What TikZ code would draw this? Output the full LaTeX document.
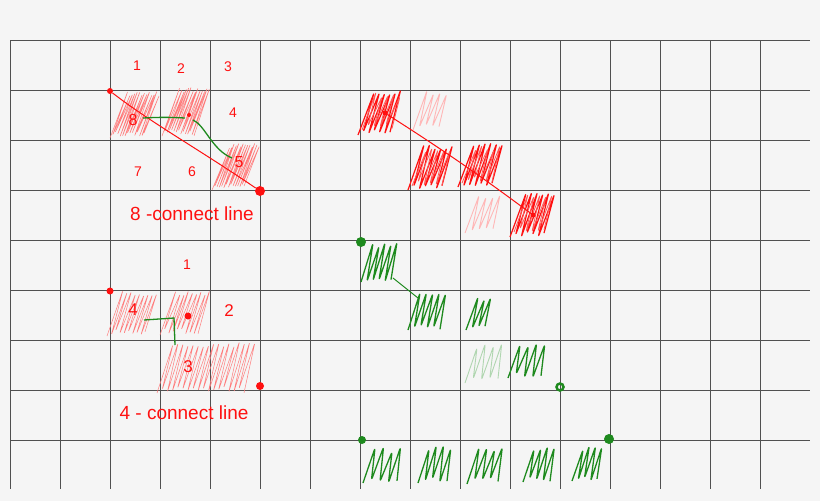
\documentclass[tikz,border=0pt]{standalone}
\usepackage{fontspec}
\setmainfont{Liberation Sans}
\definecolor{bg}{HTML}{F5F5F5}
\definecolor{gridc}{HTML}{505050}
\definecolor{pred}{HTML}{FF1010}
\definecolor{pgreen}{HTML}{1E8A1E}
\tikzset{
  gridline/.style={draw=gridc,line width=1pt},
  rdot/.style={circle,fill=pred,inner sep=0pt,minimum size=#1},
  rdot/.default=5pt,
  gdot/.style={circle,fill=pgreen,inner sep=0pt,minimum size=#1},
  gdot/.default=8pt,
  hatch/.style={draw=pred!55,line width=0.5pt,line join=round,rounded corners=1.5pt},
  rscrib/.style={draw=pred,line width=1.2pt,line join=round,rounded corners=2pt},
  rscrib2/.style={draw=pred!70,line width=0.8pt,line join=round,rounded corners=2pt},
  rlight/.style={draw=pred!30,line width=0.9pt,line join=round,rounded corners=2pt},
  gscrib/.style={draw=pgreen,line width=1.3pt,line join=round,rounded corners=2.5pt},
  glight/.style={draw=pgreen!35,line width=0.9pt,line join=round,rounded corners=2.5pt},
  redline/.style={draw=pred,line width=1pt},
  greenline/.style={draw=pgreen,line width=1.3pt},
  lab/.style={text=pred,font=\fontsize{14}{14}\selectfont,inner sep=0pt},
  biglab/.style={text=pred,font=\fontsize{19}{19}\selectfont,inner sep=0pt},
}
% x0, y0(bottom), width, height, count, slant, style
\newcommand\scrib[7]{%
  \pgfmathsetmacro\stp{(#3-#6)/#5}%
  \draw[#7] (#1,#2) \foreach \k in {1,...,#5}{ -- ({#1+(\k-1)*\stp+#6},{#2-#4+5*rnd}) -- ({#1+\k*\stp},{#2-5*rnd}) };%
}
\begin{document}
\begin{tikzpicture}[x=1pt,y=-1pt]
\pgfmathsetseed{7}
\fill[bg] (0,0) rectangle (820,501);
\useasboundingbox (0,0) rectangle (820,501);
% grid
\foreach \yy in {40,90,...,440} \draw[gridline] (10,\yy) -- (810,\yy);
\foreach \xx in {10,60,...,760} \draw[gridline] (\xx,40) -- (\xx,489);

% ---------- 8-connect (top left) ----------
\scrib{110}{138}{52}{48}{14}{18}{hatch}
\scrib{162}{136}{50}{50}{14}{18}{hatch}
\scrib{212}{190}{50}{48}{14}{18}{hatch}
\node[rdot=6pt] (a1) at (110,91) {};
\node[rdot=10pt] (a2) at (260,191) {};
\node[rdot=4pt] (ac) at (189,115) {};
\draw[redline] (a1) .. controls (150,122) and (200,150) .. (a2);
\coordinate (g1) at (143,118);
\coordinate (g2) at (185,118);
\coordinate (g3) at (193,120);
\coordinate (g4) at (232,158);
\draw[greenline] (g1) to[bend left=3] (g2);
\draw[greenline] (g3) .. controls (205,125) and (212,150) .. (g4);
\node[lab] (n1) at (137,66) {1};
\node[lab] (n2) at (181,69) {2};
\node[lab] (n3) at (228,67) {3};
\node[lab] (n4) at (233,113) {4};
\node[lab,font=\fontsize{16}{16}\selectfont] (n8) at (133,120) {8};
\node[lab,font=\fontsize{16}{16}\selectfont] (n5) at (239,162) {5};
\node[lab] (n7) at (138,172) {7};
\node[lab] (n6) at (192,172) {6};
\node[biglab] (t8) at (192,214) {8 -connect line};

% ---------- 4-connect (bottom left) ----------
\scrib{107}{336}{54}{46}{9}{16}{hatch}
\scrib{160}{335}{54}{46}{9}{16}{hatch}
\scrib{157}{393}{103}{52}{17}{16}{hatch}
\node[rdot=7pt] (b1) at (110,291) {};
\node[rdot=8pt] (b2) at (260,386) {};
\node[rdot=7pt] (bc) at (188,316) {};
\coordinate (h1) at (144,320);
\coordinate (h2) at (174,318);
\coordinate (h3) at (175,345);
\draw[greenline] (h1) -- (h2) -- (h3);
\node[lab] (m1) at (187,265) {1};
\node[lab,font=\fontsize{17}{17}\selectfont] (m4) at (133,310) {4};
\node[lab,font=\fontsize{17}{17}\selectfont] (m2) at (229,311) {2};
\node[lab,font=\fontsize{17}{17}\selectfont] (m3) at (188,367) {3};
\node[biglab] (t4) at (184,413) {4 - connect line};

% ---------- right red line ----------
\scrib{358}{135}{48}{46}{6}{16}{rscrib}
\scrib{362}{130}{44}{38}{5}{14}{rscrib2}
\scrib{413}{130}{40}{40}{4}{14}{rlight}
\scrib{408}{190}{50}{46}{6}{16}{rscrib}
\scrib{412}{186}{44}{38}{5}{14}{rscrib2}
\scrib{458}{187}{50}{45}{6}{16}{rscrib}
\scrib{462}{183}{44}{38}{5}{14}{rscrib2}
\scrib{465}{233}{42}{40}{4}{14}{rlight}
\scrib{510}{237}{50}{46}{6}{16}{rscrib}
\scrib{514}{232}{44}{38}{5}{14}{rscrib2}
\node[rdot=5pt] (r1) at (385,113) {};
\node[rdot=5pt] (r2) at (533,215) {};
\draw[redline] (r1) to[bend left=2] (r2);

% ---------- right green (stepped) ----------
\scrib{361}{282}{42}{40}{5}{12}{gscrib}
\scrib{408}{330}{44}{38}{5}{12}{gscrib}
\scrib{466}{330}{31}{33}{3}{12}{gscrib}
\scrib{465}{383}{45}{40}{4}{12}{glight}
\scrib{508}{378}{45}{36}{4}{12}{gscrib}
\node[gdot=10pt] (q1) at (361,242) {};
\node[circle,draw=pgreen,line width=2.5pt,inner sep=0pt,minimum size=7pt] (q2) at (560,387) {};
\coordinate (k1) at (393,278);
\coordinate (k2) at (418,298);
\draw[draw=pgreen,line width=1pt] (k1) -- (k2);

% ---------- bottom green row ----------
\scrib{363}{483}{46}{36}{4}{12}{gscrib}
\scrib{418}{483}{40}{38}{4}{11}{gscrib}
\scrib{467}{484}{43}{38}{4}{12}{gscrib}
\scrib{523}{482}{38}{36}{4}{11}{gscrib}
\scrib{572}{481}{36}{36}{4}{11}{gscrib}
\node[gdot=8pt] (s1) at (362,440) {};
\node[gdot=10pt] (s2) at (609,439) {};
\end{tikzpicture}
\end{document}
